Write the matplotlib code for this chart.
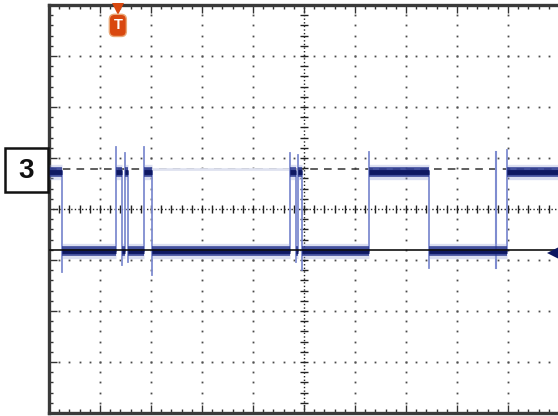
import numpy as np
import matplotlib
matplotlib.use("Agg")
import matplotlib.pyplot as plt
from matplotlib.patches import Rectangle

# ---- data (oscilloscope divisions: x -5..5, y -4..4) ----
edges = [-5.0, -4.75, -3.69, -3.57, -3.51, -3.45, -3.14, -2.98,
         -0.27, -0.16, -0.12, -0.04, 1.27, 2.45, 3.98, 5.0]
high_level = 0.72
low_level = -0.82
start_high = True
# transition extents (with overshoot) for each interior edge
edge_top = [0.72, 1.22, 0.72, 1.10, 0.72, 1.22, 0.72, 1.10, 0.72, 1.06, 0.72, 1.12, 0.72, 1.16]
edge_bottom = [-1.24, -0.82, -1.10, -0.82, -1.04, -0.82, -1.29, -0.82, -1.04, -0.82, -1.20, -0.82, -1.16, -0.82]
glitch_x = [3.76]
glitch_top = [1.12]
glitch_bottom = [-1.16]
cursor_dashed_y = 0.78
cursor_solid_y = -0.80
trigger_x = -3.65
ground_marker_y = -0.86
faint_segments = [(-2.98, -0.27)]

W, H = 558, 416
fig = plt.figure(figsize=(W / 100, H / 100), dpi=100)
fig.patch.set_facecolor("white")
ax = fig.add_axes([49 / W, 3 / H, 510 / W, 408 / H])
ax.set_xlim(-5, 5)
ax.set_ylim(-4, 4)
ax.set_facecolor("white")

# ---- graticule ----
dot_c = "#4a4a4a"
ys = np.arange(-4, 4.001, 0.2)
xs = np.arange(-5, 5.001, 0.2)
for gx in range(-4, 5):
    if gx == 0:
        continue
    ax.plot(np.full_like(ys, gx), ys, ls="none", marker="s", ms=1.3, mew=0, color=dot_c, zorder=1)
for gy in range(-3, 4):
    if gy == 0:
        continue
    ax.plot(xs, np.full_like(xs, gy), ls="none", marker="s", ms=1.3, mew=0, color=dot_c, zorder=1)
# central axes
ax.axhline(0, color="#222222", lw=1.0, ls=(0, (1, 1.6)), zorder=1)
ax.axvline(0, color="#222222", lw=1.0, ls=(0, (1, 1.6)), zorder=1)
ax.plot(xs, np.zeros_like(xs), ls="none", marker="|", ms=6, mew=1.0, color="#222222", zorder=1)
ax.plot(np.zeros_like(ys), ys, ls="none", marker="_", ms=6, mew=1.0, color="#222222", zorder=1)

ax.set_xticks(np.arange(-5, 5.01, 1))
ax.set_yticks(np.arange(-4, 4.01, 1))
ax.set_xticks(xs, minor=True)
ax.set_yticks(ys, minor=True)
ax.tick_params(which="both", direction="in", top=True, bottom=True, left=True, right=False,
               labelbottom=False, labelleft=False, color="#333333")
ax.tick_params(which="major", length=6, width=1)
ax.tick_params(which="minor", length=3, width=1)
for s in ["left", "top", "bottom"]:
    ax.spines[s].set_color("#3a3a3a")
    ax.spines[s].set_linewidth(2.4)
ax.spines["right"].set_visible(False)

# ---- cursors ----
ax.axhline(cursor_dashed_y, color="#333333", lw=1.1, ls=(0, (5, 4)), zorder=2)
ax.axhline(cursor_solid_y, color="#111111", lw=1.2, zorder=6)
for a, b in faint_segments:
    ax.plot([a, b], [cursor_dashed_y, cursor_dashed_y], color="#dfe2f0", lw=2.0, zorder=2.5)

# ---- signal ----
trans_c = "#7f8cd0"
for i, x in enumerate(edges[1:-1]):
    ax.plot([x, x], [edge_bottom[i], edge_top[i]], color=trans_c, lw=1.3, zorder=3)
for gx, gt, gb in zip(glitch_x, glitch_top, glitch_bottom):
    ax.plot([gx, gx], [gb, gt], color=trans_c, lw=1.5, zorder=3)

for i in range(len(edges) - 1):
    lvl = high_level if ((i % 2 == 0) == start_high) else low_level
    seg = [edges[i], edges[i + 1]]
    ax.plot(seg, [lvl, lvl], color="#9aa4d8", lw=11, alpha=0.35, solid_capstyle="butt", zorder=3)
    ax.plot(seg, [lvl, lvl], color="#2a3890", lw=7, alpha=0.85, solid_capstyle="butt", zorder=4)
    ax.plot(seg, [lvl, lvl], color="#0e1862", lw=3.5, solid_capstyle="butt", zorder=5)

# ground marker arrow at right
ax.plot([4.9], [ground_marker_y], marker="<", ms=10, color="#0c1660", mew=0, zorder=7, clip_on=False)

# trigger marker
ax.plot([trigger_x], [3.92], marker="v", ms=8, color="#d9480f", mew=0, zorder=6, clip_on=False)
ax.text(trigger_x, 3.6, "T", ha="center", va="center", color="white", fontsize=10.5,
        fontweight="bold", family="Liberation Sans", zorder=7,
        bbox=dict(boxstyle="round,pad=0.28,rounding_size=0.35", fc="#d9480f", ec="#eaa878", lw=1.0))

# channel label box
fig.patches.append(Rectangle((5 / W, 1 - 192 / H), 43 / W, 44 / H, transform=fig.transFigure,
                             fc="white", ec="#111111", lw=1.8))
fig.text(26.5 / W, 1 - 171 / H, "3", ha="center", va="center", fontsize=20,
         fontweight="bold", family="Liberation Sans", color="#111111")

fig.savefig("out.png", dpi=100, facecolor="white")
